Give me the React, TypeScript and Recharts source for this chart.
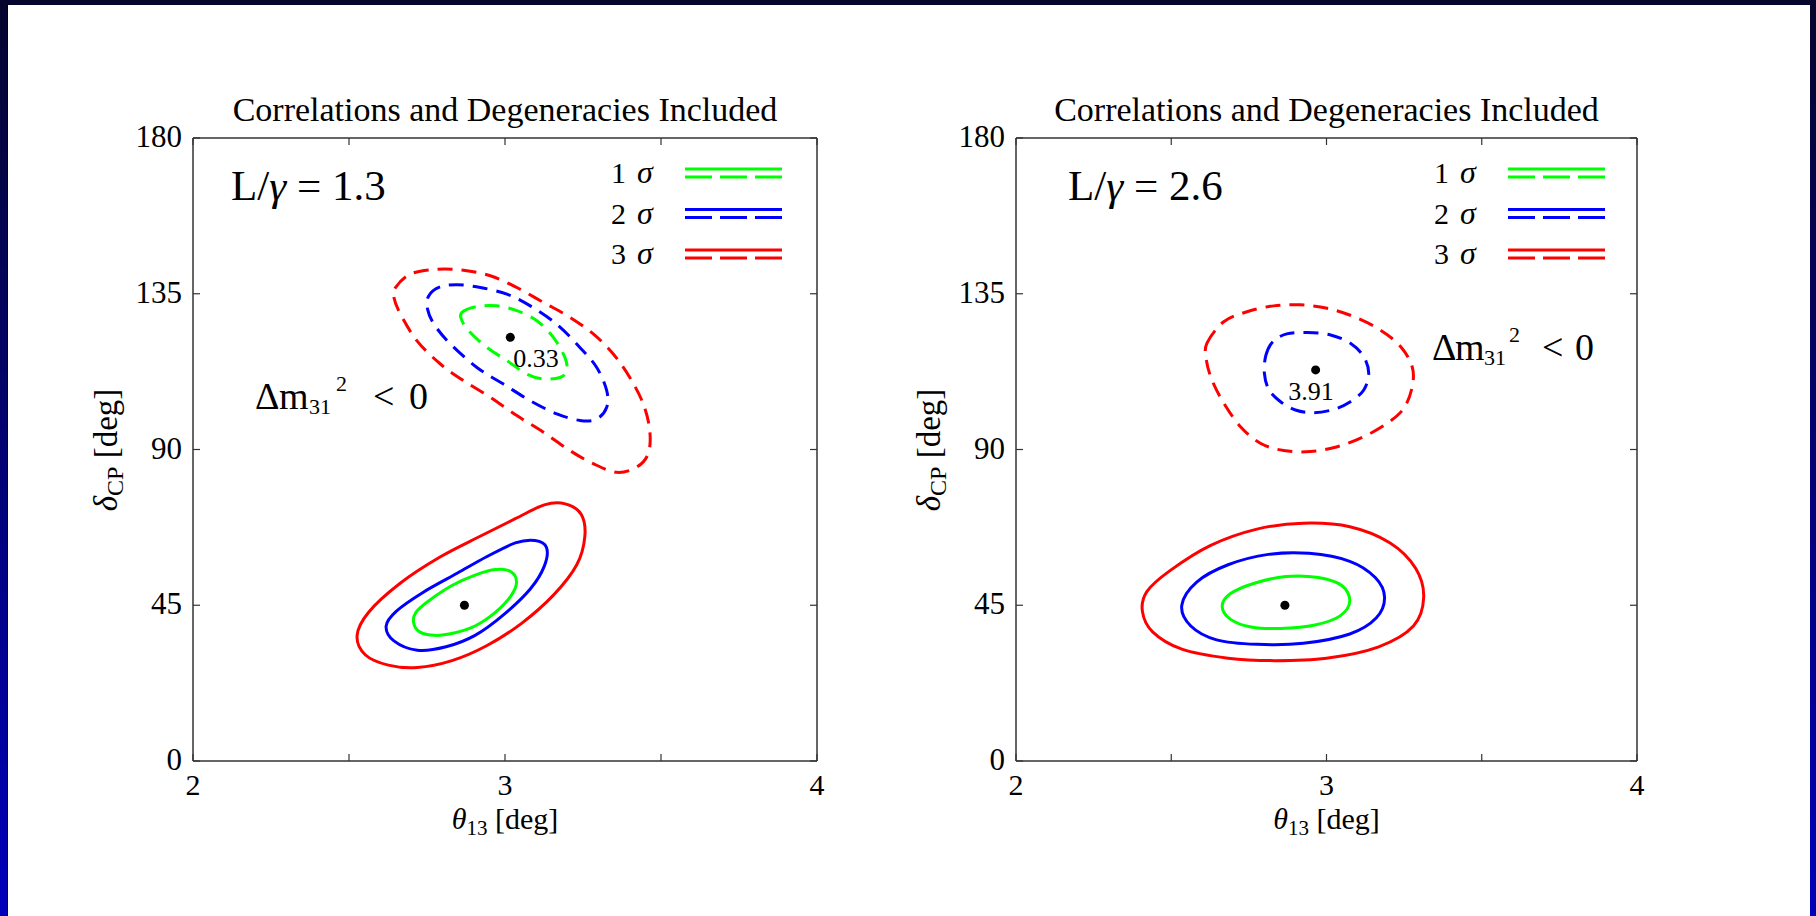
import React from 'react';
import { ComposedChart, Line, Scatter, XAxis, YAxis } from 'recharts';

const SERIF = '"Liberation Serif", "DejaVu Serif", serif';
const AXIS = '#333';
const TICK = 7;

const xTicks = [2, 2.5, 3, 3.5, 4];
const xTickLabels = ['2', '', '3', '', '4'];
const yTicks = [0, 45, 90, 135, 180];
const yTickLabels = ['0', '45', '90', '135', '180'];

const panelTitle = 'Correlations and Degeneracies Included';
const ratioLabels = ['1.3', '2.6'];
const bestFitLabels = ['0.33', '3.91'];
const sigmaLevels = ['1', '2', '3'];
const sigmaColors = ['#00ff00', '#0000ff', '#ff0000'];

// best fit points: true solution (solid) and the fake one (dashed)
const leftBestFit = [[2.87, 45], [3.017, 122.4]];
const rightBestFit = [[2.866, 45], [2.965, 113]];

// left panel, L/gamma = 1.3
const left1Solid = [[2.707, 40.0], [2.726, 37.3], [2.774, 36.3], [2.837, 37.0], [2.904, 39.0], [2.970, 43.0], [3.019, 47.7], [3.037, 51.7], [3.019, 54.7], [2.970, 55.3], [2.904, 53.7], [2.830, 50.7], [2.756, 46.3], [2.715, 43.0]];
const left2Solid = [[2.619, 39.0], [2.644, 34.7], [2.719, 32.0], [2.811, 33.0], [2.904, 36.3], [2.996, 42.3], [3.081, 49.7], [3.126, 56.3], [3.133, 61.7], [3.096, 63.7], [3.033, 63.0], [2.941, 59.0], [2.848, 54.3], [2.737, 48.7], [2.652, 43.3]];
const left3Solid = [[2.526, 36.3], [2.552, 30.7], [2.626, 27.7], [2.719, 27.0], [2.830, 29.0], [2.941, 33.3], [3.052, 39.7], [3.156, 48.0], [3.230, 56.7], [3.256, 65.0], [3.244, 71.3], [3.193, 74.3], [3.126, 74.0], [3.033, 70.0], [2.922, 65.0], [2.793, 59.0], [2.663, 51.3], [2.563, 43.0]];
const left1Dashed = [[2.862, 129.6], [2.910, 131.3], [2.974, 131.5], [3.038, 130.1], [3.102, 127.2], [3.155, 122.4], [3.192, 116.6], [3.198, 112.8], [3.176, 110.8], [3.123, 110.4], [3.070, 111.8], [3.006, 115.7], [2.942, 119.5], [2.889, 123.8], [2.862, 127.2]];
const left2Dashed = [[2.755, 134.3], [2.790, 136.9], [2.846, 137.6], [2.921, 136.8], [3.006, 134.9], [3.081, 131.5], [3.166, 126.2], [3.240, 119.5], [3.294, 113.7], [3.326, 107.0], [3.326, 102.2], [3.294, 98.8], [3.240, 98.4], [3.166, 100.3], [3.081, 104.1], [2.995, 108.9], [2.910, 113.7], [2.825, 120.5], [2.774, 126.0], [2.752, 130.5]];
const left3Dashed = [[2.649, 136.8], [2.697, 140.7], [2.782, 142.1], [2.867, 141.8], [2.953, 140.2], [3.038, 136.8], [3.123, 132.5], [3.208, 128.2], [3.283, 123.4], [3.347, 117.6], [3.400, 110.8], [3.443, 103.2], [3.464, 95.5], [3.459, 88.8], [3.422, 84.9], [3.358, 83.4], [3.283, 85.9], [3.208, 89.7], [3.123, 95.0], [3.038, 99.8], [2.953, 105.1], [2.867, 109.9], [2.793, 114.7], [2.718, 121.4], [2.665, 129.1], [2.644, 133.9]];

// right panel, L/gamma = 2.6
const right1Solid = [[2.664, 44.7], [2.690, 41.0], [2.757, 38.7], [2.851, 38.3], [2.963, 39.3], [3.045, 42.0], [3.075, 46.3], [3.049, 50.7], [2.974, 53.0], [2.869, 53.3], [2.765, 51.3], [2.690, 48.3]];
const right2Solid = [[2.534, 45.0], [2.563, 39.0], [2.646, 35.0], [2.776, 33.7], [2.925, 34.0], [3.075, 36.7], [3.160, 41.3], [3.187, 47.3], [3.157, 53.0], [3.075, 57.7], [2.944, 60.0], [2.813, 59.7], [2.683, 56.7], [2.582, 51.7]];
const right3Solid = [[2.407, 43.3], [2.440, 37.3], [2.534, 32.3], [2.683, 29.7], [2.832, 29.0], [3.000, 29.7], [3.168, 33.0], [3.280, 39.0], [3.313, 47.3], [3.287, 55.7], [3.205, 63.0], [3.075, 67.7], [2.925, 68.7], [2.776, 67.0], [2.627, 62.3], [2.496, 55.0], [2.422, 49.0]];
const right2Dashed = [[2.805, 117.3], [2.828, 121.2], [2.872, 123.4], [2.938, 123.8], [3.013, 123.1], [3.077, 120.7], [3.120, 116.8], [3.136, 112.0], [3.120, 107.2], [3.077, 103.8], [3.024, 101.6], [2.959, 100.6], [2.900, 101.4], [2.852, 103.8], [2.815, 107.2], [2.800, 112.0]];
const right3Dashed = [[2.615, 120.7], [2.669, 126.9], [2.744, 129.8], [2.830, 131.5], [2.916, 131.8], [3.002, 130.8], [3.088, 128.4], [3.174, 124.5], [3.239, 119.7], [3.276, 113.9], [3.276, 108.1], [3.249, 101.9], [3.196, 97.6], [3.120, 93.7], [3.035, 90.8], [2.948, 89.4], [2.862, 89.7], [2.787, 91.8], [2.723, 96.6], [2.669, 103.4], [2.631, 110.1], [2.613, 115.9]];

const toPts = (a: number[][]) => a.map(([x, y]) => ({ x, y }));

// closed catmull-rom so the curve runs through the read-off points
const closedCardinal: any = (context: any) => {
  let pts: number[][] = [];
  return {
    areaStart() {},
    areaEnd() {},
    lineStart() { pts = []; },
    point(x: number, y: number) { pts.push([x, y]); },
    lineEnd() {
      const n = pts.length;
      if (!n) return;
      context.moveTo(pts[0][0], pts[0][1]);
      for (let i = 0; i < n; i++) {
        const p0 = pts[(i - 1 + n) % n];
        const p1 = pts[i];
        const p2 = pts[(i + 1) % n];
        const p3 = pts[(i + 2) % n];
        context.bezierCurveTo(
          p1[0] + (p2[0] - p0[0]) / 6, p1[1] + (p2[1] - p0[1]) / 6,
          p2[0] - (p3[0] - p1[0]) / 6, p2[1] - (p3[1] - p1[1]) / 6,
          p2[0], p2[1],
        );
      }
      context.closePath();
    },
  };
};

const PLOT_TOP = 138;
const PLOT_H = 623;
const OFF_L = 100;
const OFF_T = 60;
const OFF_R = 100;
const OFF_B = 80;

const label = { fontFamily: SERIF, fill: '#000' };

const BottomTick = (props: any) => {
  const { x, y, payload } = props;
  const t = xTickLabels[xTicks.indexOf(payload.value)];
  return (
    <g>
      <line x1={x} y1={y} x2={x} y2={y - TICK} stroke={AXIS} strokeWidth={1.2} />
      {t ? <text x={x} y={y + 34} textAnchor="middle" fontSize={30} {...label}>{t}</text> : null}
    </g>
  );
};

const TopTick = (props: any) => (
  <line x1={props.x} y1={props.y} x2={props.x} y2={props.y + TICK} stroke={AXIS} strokeWidth={1.2} />
);

const LeftTick = (props: any) => {
  const { x, y, payload } = props;
  const t = yTickLabels[yTicks.indexOf(payload.value)];
  return (
    <g>
      <line x1={x} y1={y} x2={x + TICK} y2={y} stroke={AXIS} strokeWidth={1.2} />
      <text x={x - 11} y={y + 9} textAnchor="end" fontSize={31} {...label}>{t}</text>
    </g>
  );
};

const RightTick = (props: any) => (
  <line x1={props.x} y1={props.y} x2={props.x - TICK} y2={props.y} stroke={AXIS} strokeWidth={1.2} />
);

interface Contour { pts: number[][]; color: string; dashed: boolean }

const leftContours: Contour[] = [
  { pts: left1Solid, color: sigmaColors[0], dashed: false },
  { pts: left2Solid, color: sigmaColors[1], dashed: false },
  { pts: left3Solid, color: sigmaColors[2], dashed: false },
  { pts: left1Dashed, color: sigmaColors[0], dashed: true },
  { pts: left2Dashed, color: sigmaColors[1], dashed: true },
  { pts: left3Dashed, color: sigmaColors[2], dashed: true },
];

const rightContours: Contour[] = [
  { pts: right1Solid, color: sigmaColors[0], dashed: false },
  { pts: right2Solid, color: sigmaColors[1], dashed: false },
  { pts: right3Solid, color: sigmaColors[2], dashed: false },
  { pts: right2Dashed, color: sigmaColors[1], dashed: true },
  { pts: right3Dashed, color: sigmaColors[2], dashed: true },
];

const axisLine = { stroke: AXIS, strokeWidth: 1.5 };

const Panel = ({ plotLeft, plotWidth, contours, bestFit }: { plotLeft: number; plotWidth: number; contours: Contour[]; bestFit: number[][] }) => (
  <div style={{ position: 'absolute', left: plotLeft - OFF_L, top: PLOT_TOP - OFF_T }}>
    <ComposedChart
      width={plotWidth + OFF_L + OFF_R}
      height={PLOT_H + OFF_T + OFF_B}
      margin={{ top: OFF_T - 30, left: OFF_L - 60, right: OFF_R - 60, bottom: OFF_B - 30 }}
    >
      <XAxis xAxisId="b" orientation="bottom" type="number" dataKey="x" domain={[2, 4]} ticks={xTicks} interval={0}
        height={30} tickSize={0} tickMargin={0} tickLine={false} axisLine={axisLine} tick={BottomTick} allowDataOverflow />
      <XAxis xAxisId="t" orientation="top" type="number" dataKey="x" domain={[2, 4]} ticks={xTicks} interval={0}
        height={30} tickSize={0} tickMargin={0} tickLine={false} axisLine={axisLine} tick={TopTick} allowDataOverflow />
      <YAxis yAxisId="l" orientation="left" type="number" dataKey="y" domain={[0, 180]} ticks={yTicks} interval={0}
        width={60} tickSize={0} tickMargin={0} tickLine={false} axisLine={axisLine} tick={LeftTick} allowDataOverflow />
      <YAxis yAxisId="r" orientation="right" type="number" dataKey="y" domain={[0, 180]} ticks={yTicks} interval={0}
        width={60} tickSize={0} tickMargin={0} tickLine={false} axisLine={axisLine} tick={RightTick} allowDataOverflow />
      {contours.map((c, i) => (
        <Line
          key={i}
          xAxisId="b"
          yAxisId="l"
          data={toPts(c.pts)}
          dataKey="y"
          type={closedCardinal}
          stroke={c.color}
          strokeWidth={3}
          strokeDasharray={c.dashed ? '15 9' : undefined}
          dot={false}
          activeDot={false}
          isAnimationActive={false}
        />
      ))}
      <Scatter xAxisId="b" yAxisId="l" data={toPts(bestFit)} dataKey="y" fill="#000" isAnimationActive={false} />
    </ComposedChart>
  </div>
);

// hierOff: x offsets of the pieces of "Δm_31^2 < 0"
const layout = [
  { plotLeft: 193, plotWidth: 624, ratioX: 38, hier: [62, 271], hierOff: [0, 24, 54, 81, 118, 154], fit: [343, 229] },
  { plotLeft: 1016, plotWidth: 621, ratioX: 52, hier: [416, 222], hierOff: [0, 23, 52, 77, 110, 143], fit: [295, 262] },
];

const Annotations = () => (
  <svg width={1816} height={916} style={{ position: 'absolute', left: 0, top: 0, pointerEvents: 'none' }}>
    {layout.map((p, k) => {
      const cx = p.plotLeft + p.plotWidth / 2;
      const hx = p.plotLeft + p.hier[0];
      const hy = PLOT_TOP + p.hier[1];
      const o = p.hierOff;
      const yl = p.plotLeft - 76;
      return (
        <g key={k} {...label}>
          <text x={cx} y={121} textAnchor="middle" fontSize={34}>{panelTitle}</text>
          <text x={cx} y={829} textAnchor="middle" fontSize={30}>
            <tspan fontStyle="italic">θ</tspan>
            <tspan fontSize={21} dy={6}>13</tspan>
            <tspan dy={-6}> [deg]</tspan>
          </text>
          <text x={yl} y={PLOT_TOP + 312} textAnchor="middle" fontSize={33}
            transform={`rotate(-90 ${yl} ${PLOT_TOP + 312})`}>
            <tspan fontStyle="italic">δ</tspan>
            <tspan fontSize={24} dy={6}>CP</tspan>
            <tspan dy={-6}> [deg]</tspan>
          </text>
          <text x={p.plotLeft + p.ratioX} y={PLOT_TOP + 62} fontSize={43}>
            L/<tspan fontStyle="italic">γ</tspan> = {ratioLabels[k]}
          </text>
          <text y={hy} fontSize={38}>
            <tspan x={hx + o[0]}>Δ</tspan>
            <tspan x={hx + o[1]}>m</tspan>
            <tspan x={hx + o[2]} fontSize={22} dy={5}>31</tspan>
            <tspan x={hx + o[3]} fontSize={22} dy={-23}>2</tspan>
            <tspan x={hx + o[4]} dy={18}>&lt;</tspan>
            <tspan x={hx + o[5]}>0</tspan>
          </text>
          <text x={p.plotLeft + p.fit[0]} y={PLOT_TOP + p.fit[1]} textAnchor="middle" fontSize={26}>{bestFitLabels[k]}</text>
          {sigmaLevels.map((s, i) => {
            const y0 = PLOT_TOP + 31 + i * 40.5;
            return (
              <g key={s}>
                <text y={y0 + 14} fontSize={30}>
                  <tspan x={p.plotLeft + 418}>{s}</tspan>
                  <tspan x={p.plotLeft + 444} fontSize={32} fontStyle="italic">σ</tspan>
                </text>
                <line x1={p.plotLeft + 492} x2={p.plotLeft + 589} y1={y0} y2={y0} stroke={sigmaColors[i]} strokeWidth={3} />
                <line x1={p.plotLeft + 492} x2={p.plotLeft + 589} y1={y0 + 8} y2={y0 + 8} stroke={sigmaColors[i]} strokeWidth={3} strokeDasharray="27 8" />
              </g>
            );
          })}
        </g>
      );
    })}
  </svg>
);

export default function App() {
  return (
    <div style={{ position: 'absolute', left: 0, top: 0, width: 1816, height: 916, overflow: 'hidden',
      background: 'linear-gradient(to bottom, #05052e 0%, #0000bb 100%)' }}>
      <div style={{ position: 'absolute', left: 7, top: 5, width: 1803, height: 911, background: '#fff',
        borderLeft: '1px solid #000', boxSizing: 'border-box' }} />
      <Panel plotLeft={layout[0].plotLeft} plotWidth={layout[0].plotWidth} contours={leftContours} bestFit={leftBestFit} />
      <Panel plotLeft={layout[1].plotLeft} plotWidth={layout[1].plotWidth} contours={rightContours} bestFit={rightBestFit} />
      <Annotations />
    </div>
  );
}
